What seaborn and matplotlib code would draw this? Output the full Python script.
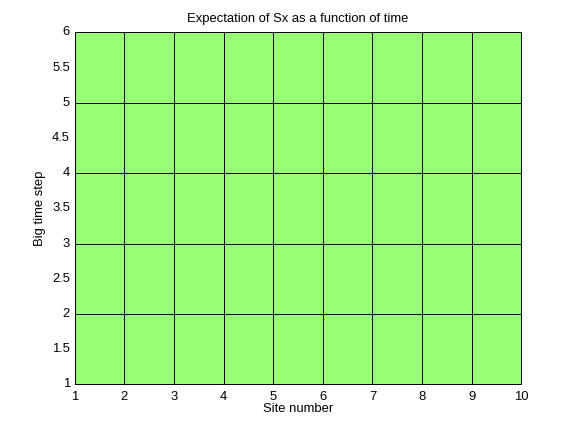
import numpy as np
import pandas as pd
import seaborn as sns
import matplotlib.pyplot as plt
from matplotlib.colors import ListedColormap

sns.set_style("white")
plt.rcParams['font.family'] = ['Liberation Sans', 'DejaVu Sans']
plt.rcParams['text.color'] = 'black'
plt.rcParams['axes.labelcolor'] = 'black'
plt.rcParams['xtick.color'] = 'black'
plt.rcParams['ytick.color'] = 'black'

# site numbers (grid nodes) and big time steps
sites = [1, 2, 3, 4, 5, 6, 7, 8, 9, 10]
time_steps = [1, 2, 3, 4, 5, 6]
x_ticklabels = ['1', '2', '3', '4', '5', '6', '7', '8', '9', '10']
y_ticklabels = ['1', '1.5', '2', '2.5', '3', '3.5', '4', '4.5', '5', '5.5', '6']

# expectation of Sx per cell (flat in the picture)
sx_expect = [
    [0.5, 0.5, 0.5, 0.5, 0.5, 0.5, 0.5, 0.5, 0.5],
    [0.5, 0.5, 0.5, 0.5, 0.5, 0.5, 0.5, 0.5, 0.5],
    [0.5, 0.5, 0.5, 0.5, 0.5, 0.5, 0.5, 0.5, 0.5],
    [0.5, 0.5, 0.5, 0.5, 0.5, 0.5, 0.5, 0.5, 0.5],
    [0.5, 0.5, 0.5, 0.5, 0.5, 0.5, 0.5, 0.5, 0.5],
]
df = pd.DataFrame(sx_expect, index=time_steps[:-1], columns=sites[:-1])

fig = plt.figure(figsize=(8, 6), dpi=72)
ax = fig.add_axes([0.13, 0.11, 0.775, 0.815])
sns.heatmap(df, ax=ax, cmap=ListedColormap(['#96ff73']), cbar=False,
            linewidths=1, linecolor='black')

ax.set_xlim(0, len(sites) - 1)
ax.set_ylim(0, len(time_steps) - 1)
ax.set_xticks(np.arange(len(sites)))
ax.set_xticklabels(x_ticklabels, rotation=0)
ax.set_yticks(np.arange(len(y_ticklabels)) * 0.5)
ax.set_yticklabels(y_ticklabels, rotation=0)
ax.tick_params(direction='in', length=4, labelsize=13, color='black',
               bottom=True, left=True)
ax.tick_params(axis='x', pad=7)
ax.tick_params(axis='y', pad=5)
for s in ax.spines.values():
    s.set_visible(True)
    s.set_color('black')
    s.set_linewidth(1)

ax.set_title('Expectation of Sx as a function of time', fontsize=13, pad=10)
ax.set_xlabel('Site number', fontsize=13, labelpad=0)
ax.set_ylabel('Big time step', fontsize=13, labelpad=6)

fig.savefig('out.png', dpi=72)
